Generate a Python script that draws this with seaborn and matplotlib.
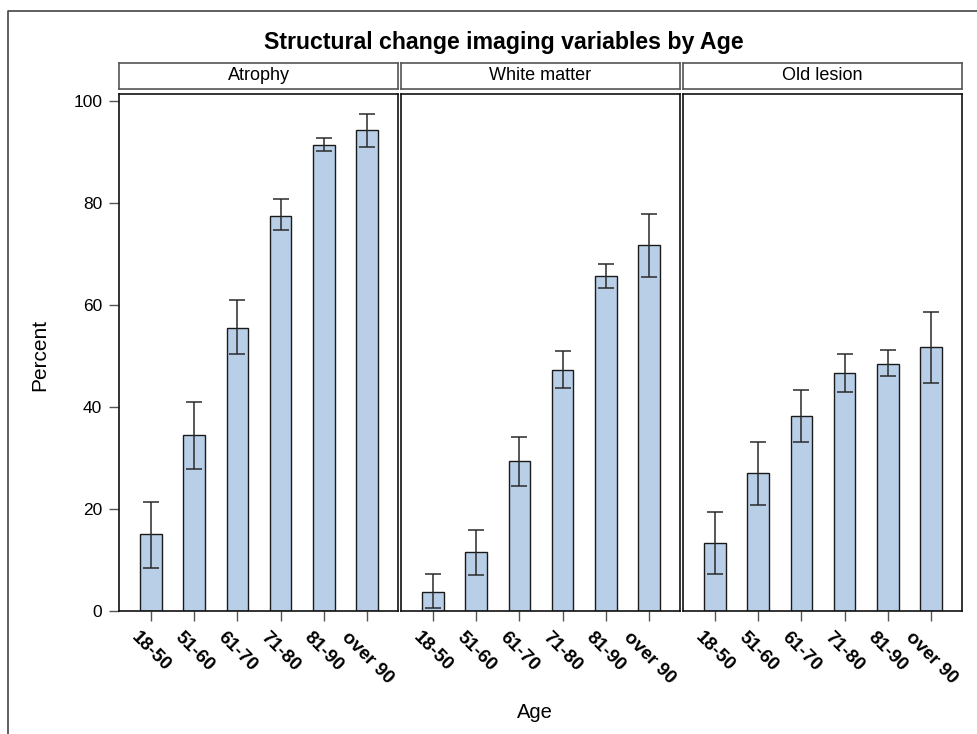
import matplotlib
matplotlib.use("Agg")
import matplotlib.pyplot as plt
import seaborn as sns
import pandas as pd
import numpy as np
from matplotlib.lines import Line2D

sns.set_theme(style="white")
plt.rcParams['font.family'] = ['Liberation Sans', 'DejaVu Sans']
plt.rcParams['text.color'] = 'black'
plt.rcParams['axes.labelcolor'] = 'black'
plt.rcParams['xtick.labelcolor'] = 'black'
plt.rcParams['ytick.labelcolor'] = 'black'

ages = ["18-50", "51-60", "61-70", "71-80", "81-90", "over 90"]
panels = ["Atrophy", "White matter", "Old lesion"]

atrophy = [15.1, 34.5, 55.5, 77.4, 91.4, 94.4]
atrophy_lo = [8.5, 27.9, 50.4, 74.8, 90.3, 91.1]
atrophy_hi = [21.3, 41.0, 60.9, 80.9, 92.8, 97.4]

white = [3.8, 11.5, 29.4, 47.3, 65.7, 71.7]
white_lo = [0.5, 7.1, 24.6, 43.7, 63.4, 65.5]
white_hi = [7.3, 15.9, 34.1, 50.9, 68.1, 77.9]

old = [13.3, 27.0, 38.3, 46.6, 48.4, 51.7]
old_lo = [7.3, 20.7, 33.2, 43.0, 46.1, 44.8]
old_hi = [19.5, 33.2, 43.4, 50.5, 51.1, 58.6]

values = [atrophy, white, old]
lows = [atrophy_lo, white_lo, old_lo]
highs = [atrophy_hi, white_hi, old_hi]

W, H = 978, 734
fig = plt.figure(figsize=(W / 100, H / 100), dpi=100)

# outer frame
fig.add_artist(Line2D([8 / W, 8 / W, 1.0], [0.0, 1 - 11 / H, 1 - 11 / H],
                      transform=fig.transFigure, color="#444444", lw=1.2))

bar_color = "#B9CFE7"
lefts = [119, 401, 683]
pw = 279
bottom_px, top_px = 611, 94
hdr_top, hdr_bot = 63, 89

for i, name in enumerate(panels):
    ax = fig.add_axes([lefts[i] / W, (H - bottom_px) / H, pw / W, (bottom_px - top_px) / H])
    df = pd.DataFrame({"Age": ages, "Percent": values[i]})
    sns.barplot(data=df, x="Age", y="Percent", order=ages, color=bar_color,
                edgecolor="#1a1a1a", linewidth=1.0, width=0.5, errorbar=None,
                saturation=1, ax=ax)
    v = np.array(values[i])
    lo = v - np.array(lows[i])
    hi = np.array(highs[i]) - v
    ax.errorbar(np.arange(len(ages)), v, yerr=[lo, hi], fmt="none",
                ecolor="#2a2a2a", elinewidth=1.1, capsize=5.5, capthick=1.1)
    ax.set_xlim(-0.74, 5.72)
    ax.set_ylim(0, 101.4)
    for s in ax.spines.values():
        s.set_visible(True)
        s.set_color("#111111")
        s.set_linewidth(1.2)
    ax.set_xlabel("")
    ax.set_ylabel("")
    ax.tick_params(axis="x", bottom=True, length=7, width=1, color="#555555",
                   pad=6, labelsize=13.5)
    ax.set_xticks(np.arange(len(ages)))
    ax.set_xticklabels(ages, rotation=-45, ha="center", va="top",
                       fontweight="bold")
    if i == 0:
        ax.set_yticks([0, 20, 40, 60, 80, 100])
        ax.tick_params(axis="y", left=True, length=7, width=1, color="#555555",
                       pad=5, labelsize=12.5)
    else:
        ax.set_yticks([])
    ax.grid(False)

    hx = fig.add_axes([lefts[i] / W, (H - hdr_bot) / H, pw / W, (hdr_bot - hdr_top) / H])
    hx.set_xticks([])
    hx.set_yticks([])
    for s in hx.spines.values():
        s.set_visible(True)
        s.set_color("#555555")
        s.set_linewidth(1.2)
    hx.text(0.5, 0.5, name, ha="center", va="center", fontsize=13,
            transform=hx.transAxes)

fig.text(504 / W, 1 - 43 / H, "Structural change imaging variables by Age",
         ha="center", va="center", fontsize=16.7, fontweight="bold")
fig.text(40 / W, 1 - 355 / H, "Percent", ha="center", va="center",
         rotation=90, fontsize=15)
fig.text(535 / W, 1 - 713 / H, "Age", ha="center", va="center", fontsize=14.5)

fig.savefig("out.png", dpi=100)
